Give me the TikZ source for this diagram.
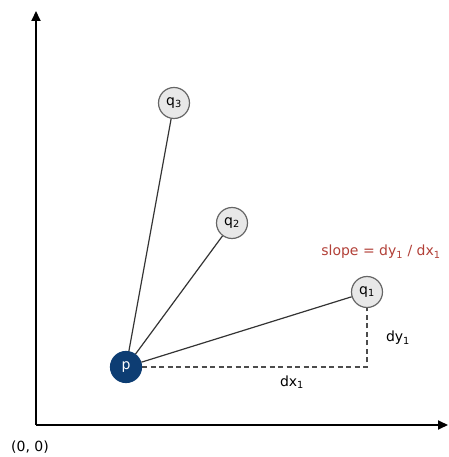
\documentclass[tikz,border=0pt]{standalone}
\usepackage{fontspec}
\setmainfont{DejaVu Sans}
\usetikzlibrary{arrows.meta,positioning}
\definecolor{pblue}{rgb}{0.05,0.24,0.45}
\definecolor{qgray}{rgb}{0.91,0.91,0.91}
\definecolor{slopered}{rgb}{0.70,0.25,0.22}

\begin{document}
\begin{tikzpicture}[x=1pt,y=1pt,font=\fontsize{14}{16}\selectfont,
   pt/.style={circle,draw=black!60,line width=1.2pt,fill=qgray,minimum size=31pt,inner sep=0pt},
   axis/.style={line width=1.8pt,-{Triangle[length=10pt,width=9pt]}},
   link/.style={draw=black!80,line width=1.2pt},
   guide/.style={draw=black!70,line width=1.6pt,dash pattern=on 5pt off 3.5pt}]
  \useasboundingbox (0,0) rectangle (448,457);
  % axes
  \coordinate (o) at (36,32);
  \coordinate (ytop) at (36,446);
  \coordinate (xend) at (448,32);
  \draw[axis] (o) -- (ytop);
  \draw[axis] (o) -- (xend);
  \node (orig) at (30,10) {(0, 0)};
  % points
  \node[pt,fill=pblue,draw=pblue,text=white] (p) at (126,90) {p};
  \node[pt] (q1) at (367,165) {q\textsubscript{1}};
  \node[pt] (q2) at (232,234) {q\textsubscript{2}};
  \node[pt] (q3) at (174,354) {q\textsubscript{3}};
  \draw[link] (p) -- (q1);
  \draw[link] (p) -- (q2);
  \draw[link] (p) -- (q3);
  % run and rise
  \coordinate (c) at (367,90);
  \draw[guide] (p) -- (c) -- (q1);
  \node (dx) at (292,75) {dx\textsubscript{1}};
  \node (dy) at (398,119) {dy\textsubscript{1}};
  \node[text=slopered] (slope) at (381,205) {slope = dy\textsubscript{1} / dx\textsubscript{1}};
\end{tikzpicture}
\end{document}
